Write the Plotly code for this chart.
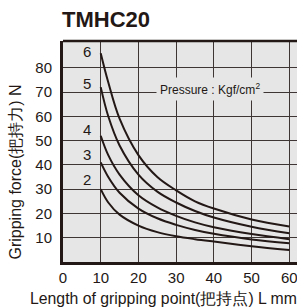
import plotly.graph_objects as go

# Data
pressures = ["6", "5", "4", "3", "2"]
x_vals = [10, 12, 15, 20, 25, 30, 35, 40, 50, 60]
force_6 = [86, 74, 59, 44, 35, 29.5, 25, 22, 17.5, 14.6]
force_5 = [72, 60, 48, 36, 29, 24.5, 21, 18.3, 14.5, 11.8]
force_4 = [52, 44, 36, 27.5, 22.5, 19, 16.3, 14.3, 11.5, 9.4]
force_3 = [41, 35, 28.5, 22, 18, 15.3, 13.2, 11.6, 9.3, 7.7]
force_2 = [30, 24.5, 19.5, 15, 12.3, 10.6, 9.4, 8.4, 6.5, 4.9]
series = [force_6, force_5, force_4, force_3, force_2]
label_x = [6.45, 6.45, 6.45, 6.45, 6.45]
label_y = [86.7, 73.6, 54.7, 44.1, 33.8]
x_ticks = [0, 10, 20, 30, 40, 50, 60]
y_ticks = [10, 20, 30, 40, 50, 60, 70, 80]

LINE = "#231815"
GRID = "#3e3634"
BG = "#e6e6e6"
FONT = "Liberation Sans, Arial, sans-serif"

fig = go.Figure()
for name, ys in zip(pressures, series):
    fig.add_trace(go.Scatter(x=x_vals, y=ys, mode="lines", name=name,
                             line=dict(color=LINE, width=2, shape="spline", smoothing=1.0),
                             showlegend=False, hoverinfo="skip"))

annotations = []
for name, lx, ly in zip(pressures, label_x, label_y):
    annotations.append(dict(x=lx, y=ly, xref="x", yref="y", text=name, showarrow=False,
                            font=dict(family=FONT, size=15, color=LINE)))

annotations.append(dict(x=38.9, y=71.2, xref="x", yref="y",
                        text="Pressure : Kgf/cm<sup>2</sup>", showarrow=False,
                        font=dict(family=FONT, size=12, color=LINE),
                        bgcolor=BG, borderpad=3))

annotations.append(dict(x=1.008, y=-0.163, xref="paper", yref="paper",
                        text="Length of gripping point(把持点) L mm", showarrow=False,
                        xanchor="right", yanchor="middle",
                        font=dict(family=FONT, size=15.8, color=LINE)))
annotations.append(dict(x=-0.205, y=0.0, xref="paper", yref="paper",
                        text="Gripping force(把持力) N", showarrow=False, textangle=-90,
                        xanchor="center", yanchor="bottom",
                        font=dict(family=FONT, size=16, color=LINE)))

fig.update_layout(
    width=297, height=307,
    margin=dict(l=63, r=0, t=41, b=45, autoexpand=False),
    paper_bgcolor="white",
    plot_bgcolor=BG,
    annotations=annotations,
    title=dict(text="<b>TMHC20</b>", x=62 / 297, xanchor="left", xref="container",
               y=1 - 19 / 307, yanchor="middle", yref="container",
               font=dict(family=FONT, size=22, color=LINE)),
    shapes=[dict(type="line", xref="paper", yref="paper", x0=0, x1=1, y0=1, y1=1,
                 line=dict(color=LINE, width=2.5))],
)
fig.update_xaxes(range=[0, 62.04], tickvals=x_ticks, showgrid=True, gridcolor=GRID,
                 gridwidth=1, zeroline=False, showline=True, linewidth=3,
                 linecolor=LINE, ticks="", ticklabelstandoff=0, automargin=False,
                 ticklabeloverflow="allow",
                 tickfont=dict(family=FONT, size=15, color=LINE))
fig.update_yaxes(range=[0, 91], tickvals=y_ticks, showgrid=True, gridcolor=GRID,
                 gridwidth=1, zeroline=False, showline=True, linewidth=3,
                 linecolor=LINE, ticks="", ticklabelstandoff=5, automargin=False,
                 tickfont=dict(family=FONT, size=15, color=LINE))

fig.write_html("out.html", config={"displayModeBar": False},
               post_script="document.body.style.margin='0';document.body.style.padding='0';")
